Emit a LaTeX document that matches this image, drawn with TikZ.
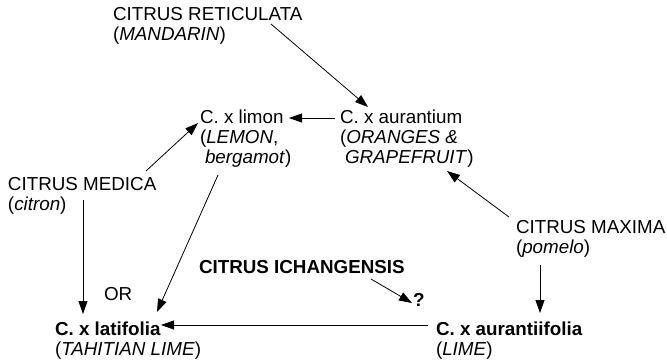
\documentclass[tikz,border=0pt]{standalone}
\usepackage{fontspec}
\setmainfont{Liberation Sans}
\usetikzlibrary{arrows.meta}
\begin{document}
\begin{tikzpicture}[x=1pt,y=-1pt,
  lbl/.style={inner sep=0pt,outer sep=0pt,anchor=base west,align=left,
    font=\fontsize{18.8}{20}\selectfont},
  arr/.style={line width=0.8pt,-{Triangle[length=13pt,width=9pt]}}]
\useasboundingbox (0,0) rectangle (667,362);
\node[lbl] (reti) at (113,40) {CITRUS RETICULATA\\(\textit{MANDARIN})};
\node[lbl] (aur) at (340,163) {C. x aurantium\\(\textit{ORANGES \&}\\\hspace*{5pt}\textit{GRAPEFRUIT})};
\node[lbl] (lim) at (200,163) {C. x limon\\(\textit{LEMON},\\\hspace*{5pt}\textit{bergamot})};
\node[lbl] (med) at (8,210) {CITRUS MEDICA\\(\textit{citron})};
\node[lbl] (max) at (516,253) {CITRUS MAXIMA\\(\textit{pomelo})};
\node[lbl,font=\fontsize{18.8}{20}\selectfont\bfseries] (ich) at (199,273) {CITRUS ICHANGENSIS};
\node[lbl,font=\fontsize{18.8}{20}\selectfont\bfseries] (q) at (413,306) {?};
\node[lbl] (or) at (104,300) {OR};
\node[lbl] (lat) at (55,355) {\textbf{C. x latifolia}\\(\textit{TAHITIAN LIME})};
\node[lbl] (lime) at (436,355) {\textbf{C. x aurantiifolia}\\(\textit{LIME})};
\draw[arr] ([shift={(158,-16)}]reti.base west) -- ([shift={(28,-56)}]aur.base west);
\draw[arr] ([shift={(-5,-45)}]aur.base west) -- ([shift={(89,-45)}]lim.base west);
\draw[arr] ([shift={(138,-39)}]med.base west) -- ([shift={(-2,-40)}]lim.base west);
\draw[arr] ([shift={(18,12)}]lim.base west) -- ([shift={(102,-43)}]lat.base west);
\draw[arr] ([shift={(75,-10)}]med.base west) -- ([shift={(28,-41)}]lat.base west);
\draw[arr] ([shift={(-7,-36)}]max.base west) -- ([shift={(107,8)}]aur.base west);
\draw[arr] ([shift={(24,12)}]max.base west) -- ([shift={(104,-42)}]lime.base west);
\draw[arr] ([shift={(172,6)}]ich.base west) -- ([shift={(-1,-3)}]q.base west);
\draw[arr] ([shift={(-8,-30)}]lime.base west) -- ([shift={(106,-30)}]lat.base west);
\end{tikzpicture}
\end{document}
